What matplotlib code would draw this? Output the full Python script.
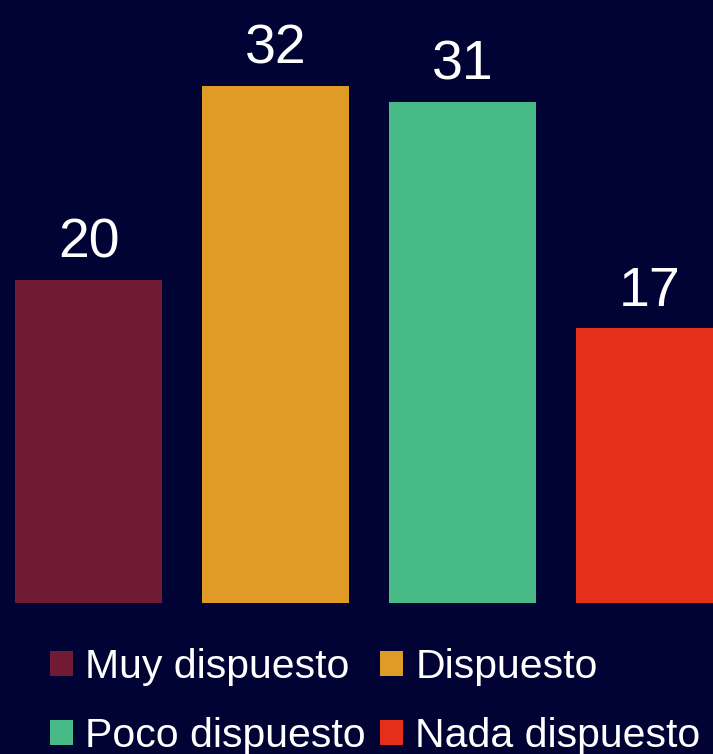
import matplotlib
matplotlib.use("Agg")
import matplotlib.pyplot as plt
from matplotlib.patches import Patch

categories = ["Muy dispuesto", "Dispuesto", "Poco dispuesto", "Nada dispuesto"]
values = [20, 32, 31, 17]
colors = ["#701A33", "#E09A26", "#47BA87", "#E52E1C"]
BG = "#000333"

plt.rcParams["font.family"] = ["Liberation Sans", "DejaVu Sans"]

W, H = 713, 754
fig = plt.figure(figsize=(W / 100, H / 100), dpi=100, facecolor=BG)
# axes spans full width, from the baseline (y=603 px) to the top
ax = fig.add_axes([0, 1 - 603 / H, 1, 603 / H])
ax.set_facecolor(BG)

step = 187.0
x0 = 88.5
pos = list(range(len(values)))
ax.bar(pos, values, width=147 / step, color=colors)
for p, v in zip(pos, values):
    ax.text(p, v + 0.65, str(v), ha="center", va="bottom", color="white", fontsize=40)

ax.set_xlim(-x0 / step, (W - x0) / step)
ax.set_ylim(0, 603 / 16.16)
ax.axis("off")

# legend fills column-first, so reorder to read row by row
order = [0, 2, 1, 3]
handles = [Patch(facecolor=colors[i], edgecolor="none") for i in order]
labels = [categories[i] for i in order]
fig.legend(handles, labels, ncol=2, loc="upper left",
           bbox_to_anchor=(50 / W, 1 - 648 / H), frameon=False,
           borderaxespad=0, borderpad=0,
           fontsize=29.5, labelcolor="white", handlelength=0.56, handleheight=0.56,
           handletextpad=0.3, columnspacing=0.35, labelspacing=0.75)

fig.savefig("out.png", dpi=100, facecolor=BG)
